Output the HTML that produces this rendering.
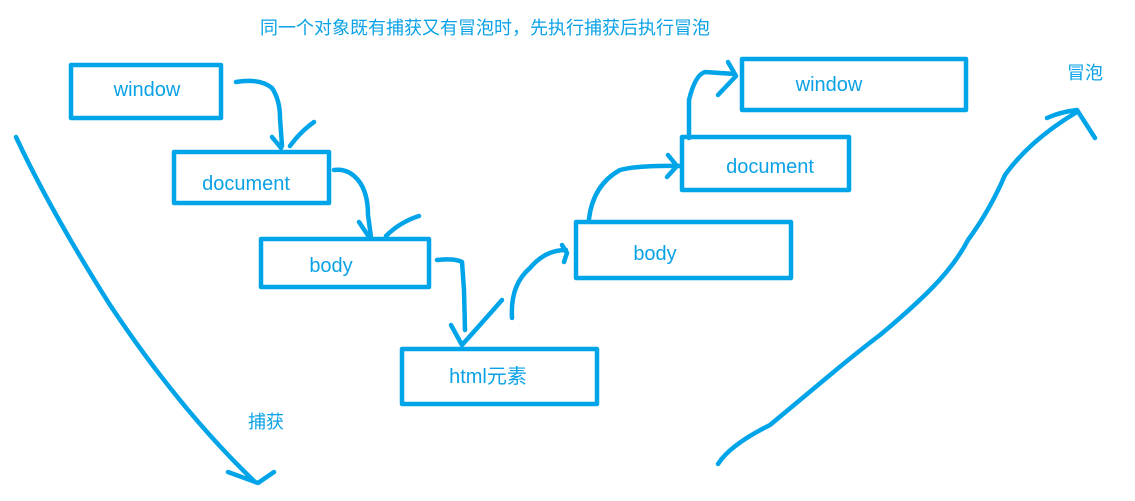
<!DOCTYPE html>
<html><head><meta charset="utf-8"><style>
html,body{margin:0;padding:0;background:#fff;width:1135px;height:501px;overflow:hidden}
svg{display:block}
text{font-family:"Liberation Sans","Noto Sans CJK SC",sans-serif;fill:#0aa2e6}
</style></head><body>
<svg width="1135" height="501" viewBox="0 0 1135 501" xmlns="http://www.w3.org/2000/svg">
<g fill="none" stroke="#00a4e8" stroke-width="4.5" stroke-linecap="round" stroke-linejoin="round">
<rect x="71" y="65" width="150" height="53"/>
<rect x="174" y="152" width="155" height="51"/>
<rect x="261" y="239" width="168" height="48"/>
<rect x="402" y="349" width="195" height="55"/>
<rect x="576" y="222" width="215" height="56"/>
<rect x="682" y="137" width="167" height="53"/>
<rect x="742" y="59" width="224" height="51"/>
<path d="M16,137 Q50,210 110,305 Q180,410 255,482"/>
<path d="M228,472 L258,483 L274,472"/>
<path d="M718,464 Q730,445 770,425 Q800,400 830,375 Q860,350 880,335 Q910,310 930,290 Q955,265 968,240 Q990,210 1005,175 Q1030,140 1077,112"/>
<path d="M1047,118 Q1060,112 1077,110 L1095,138"/>
<path d="M236,82 Q260,78 272,88 Q280,100 280,118 L282,146"/>
<path d="M272,137 L281,148 M314,122 Q300,132 290,146"/>
<path d="M334,170 Q348,168 358,180 Q368,192 368,215 L371,237"/>
<path d="M359,222 L369,237 M419,216 Q400,222 386,236"/>
<path d="M437,260 Q455,258 462,262 L464,290 L465,330"/>
<path d="M451,325 L462,345 Q480,325 502,300"/>
<path d="M512,318 Q510,285 530,268 Q545,250 566,250 M562,245 L567,253 L564,262"/>
<path d="M589,219 Q593,185 620,170 Q640,165 680,166 M668,155 L677,166 L667,177"/>
<path d="M689,138 L689,100 Q695,75 705,72 L735,74 M728,62 L736,76 L718,95"/>
</g>
<text x="260" y="34" font-size="18">同一个对象既有捕获又有冒泡时，先执行捕获后执行冒泡</text>
<text x="147" y="96" font-size="20" text-anchor="middle">window</text>
<text x="246" y="190" font-size="20" text-anchor="middle">document</text>
<text x="331" y="272" font-size="20" text-anchor="middle">body</text>
<text x="488" y="383" font-size="20" text-anchor="middle">html元素</text>
<text x="655" y="260" font-size="20" text-anchor="middle">body</text>
<text x="770" y="173" font-size="20" text-anchor="middle">document</text>
<text x="829" y="91" font-size="20" text-anchor="middle">window</text>
<text x="1067" y="79" font-size="18">冒泡</text>
<text x="248" y="428" font-size="18">捕获</text>
</svg>
</body></html>
